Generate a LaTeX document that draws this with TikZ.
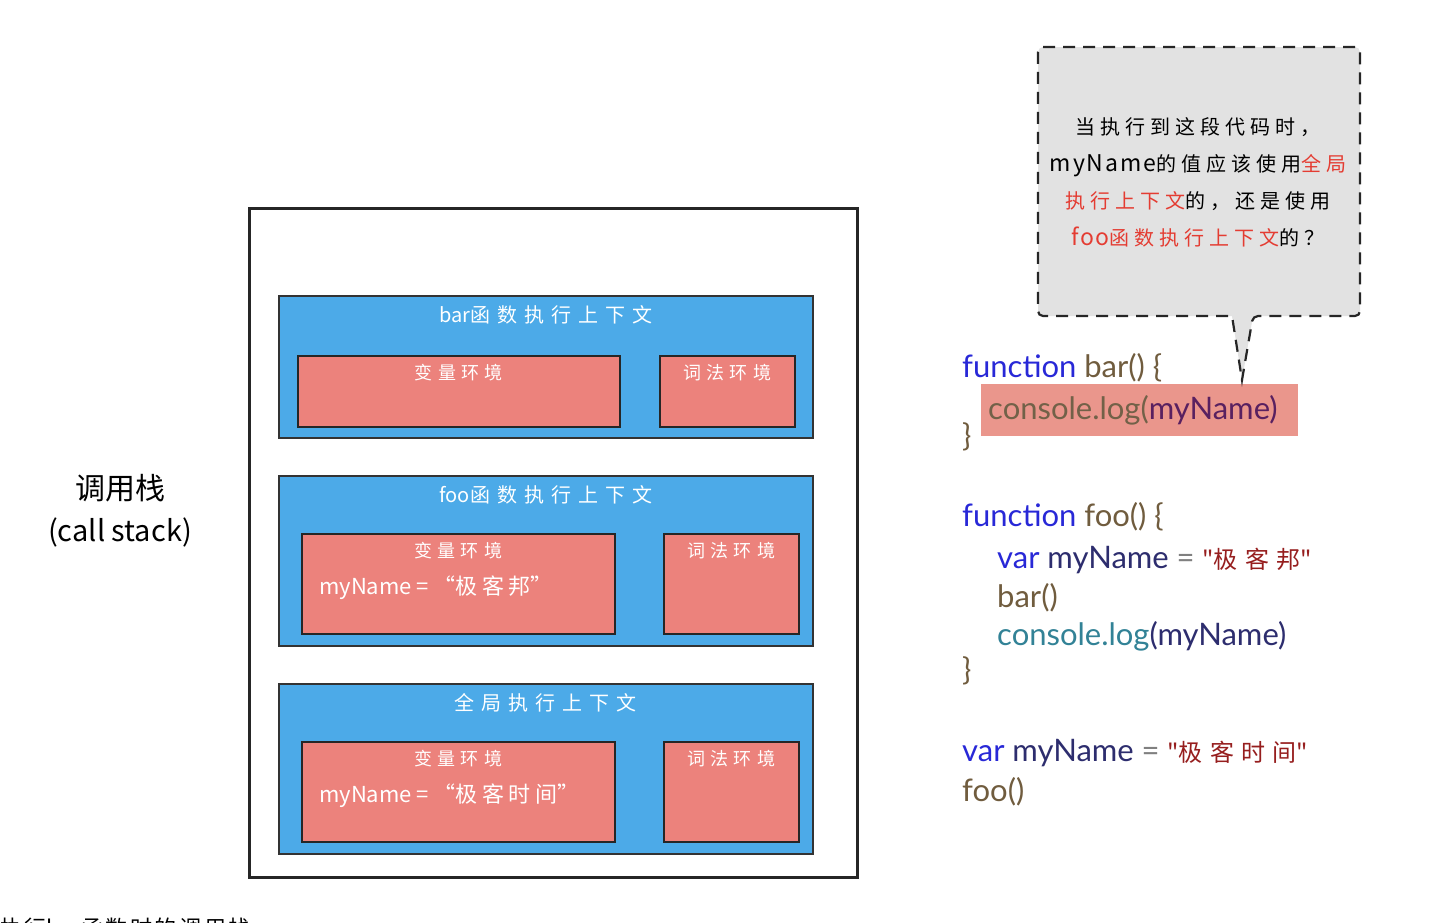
\documentclass[tikz,border=0pt]{standalone}
\usepackage{fontspec}
\setmainfont{Lato}
\newfontfamily\cjk{Noto Sans CJK SC}
\usetikzlibrary{positioning}

\definecolor{ctxblue}{RGB}{76,170,232}
\definecolor{envred}{RGB}{236,130,124}
\definecolor{hlred}{RGB}{234,150,140}
\definecolor{bubblegray}{RGB}{226,226,226}
\definecolor{kwblue}{RGB}{40,40,215}
\definecolor{fnbrown}{RGB}{112,92,62}
\definecolor{strred}{RGB}{150,30,30}
\definecolor{varnavy}{RGB}{45,45,110}
\definecolor{logteal}{RGB}{50,130,150}
\definecolor{notered}{RGB}{228,60,50}

\tikzset{
  stackbox/.style={draw=black!85,line width=2.5pt,fill=white},
  ctxbox/.style={draw=black!80,line width=1.5pt,fill=ctxblue,minimum width=534pt},
  envbox/.style={draw=black!85,line width=1.5pt,fill=envred},
  ctxtitle/.style={text=white,inner sep=2pt,font=\cjk\fontsize{20}{24}\selectfont},
  envlabel/.style={text=white,inner sep=2pt,font=\cjk\fontsize{18}{22}\selectfont},
  envtext/.style={text=white,inner sep=0pt,anchor=west,font=\cjk\fontsize{22}{26}\selectfont},
  codeline/.style={anchor=base west,inner sep=0pt,font=\fontsize{31}{36}\selectfont},
  hlbox/.style={fill=hlred,inner xsep=7pt,inner ysep=0pt,minimum height=52pt,text width=303pt,align=left,font=\fontsize{31}{36}\selectfont},
  note/.style={align=center,inner sep=0pt,font=\cjk\fontsize{20}{37}\selectfont},
  bubble/.style={draw=black!85,line width=2.2pt,fill=bubblegray,dash pattern=on 12pt off 8pt,rounded corners=5pt}
}
% spaced CJK run
\newcommand{\spc}[2][30]{{\addfontfeature{LetterSpace=#1}#2}}
\newcommand{\str}[1]{\textcolor{strred}{\cjk\fontsize{24}{30}\selectfont"\spc[30]{#1}"}}
\newcommand{\wide}[1]{{\fontsize{23}{37}\selectfont\spc[8]{#1}}}

\begin{document}
\begin{tikzpicture}[x=1pt,y=-1pt]
    \useasboundingbox (0,0) rectangle (1430,922);

    % call stack label
    \node[font=\cjk\fontsize{30}{34}\selectfont] (stacklabel) at (120,488) {调用栈};
    \node[font=\cjk\fontsize{29}{32}\selectfont,below=9pt of stacklabel] (stacklabelen) {(call stack)};

    % call stack frame
    \node[stackbox,minimum width=608pt,minimum height=669pt,anchor=north west] (stack) at (248,207) {};

    % bar context
    \node[ctxbox,minimum height=142pt,anchor=north west] (barctx) at (278,295) {};
    \node[ctxtitle,below=8pt of barctx.north] (bartitle) {bar\spc[35]{函数执行上下文}};
    \node[envbox,minimum width=322pt,minimum height=71pt,anchor=north west] (barvar) at (297,355) {};
    \node[envlabel,below=7pt of barvar.north] {\spc{变量环境}};
    \node[envbox,minimum width=135pt,minimum height=71pt,anchor=north west] (barlex) at (659,355) {};
    \node[envlabel,below=7pt of barlex.north] {\spc{词法环境}};

    % foo context
    \node[ctxbox,minimum height=170pt,anchor=north west] (fooctx) at (278,475) {};
    \node[ctxtitle,below=8pt of fooctx.north] (footitle) {foo\spc[35]{函数执行上下文}};
    \node[envbox,minimum width=313pt,minimum height=100pt,anchor=north west] (foovar) at (301,533) {};
    \node[envlabel,below=7pt of foovar.north] {\spc{变量环境}};
    \node[envtext] at (319,588) {myName = “\spc[20]{极客邦}”};
    \node[envbox,minimum width=135pt,minimum height=100pt,anchor=north west] (foolex) at (663,533) {};
    \node[envlabel,below=7pt of foolex.north] {\spc{词法环境}};

    % global context
    \node[ctxbox,minimum height=170pt,anchor=north west] (globctx) at (278,683) {};
    \node[ctxtitle,below=8pt of globctx.north] (globtitle) {\spc[35]{全局执行上下文}};
    \node[envbox,minimum width=313pt,minimum height=100pt,anchor=north west] (globvar) at (301,741) {};
    \node[envlabel,below=7pt of globvar.north] {\spc{变量环境}};
    \node[envtext] at (319,796) {myName = “\spc[20]{极客时间}”};
    \node[envbox,minimum width=135pt,minimum height=100pt,anchor=north west] (globlex) at (663,741) {};
    \node[envlabel,below=7pt of globlex.north] {\spc{词法环境}};

    % code
    \node[codeline] (fnbar) at (962,377) {\textcolor{kwblue}{function} \textcolor{fnbrown}{bar() \{}};
    \node[hlbox,anchor=north west] (hlline) at (981,384) {\textcolor{fnbrown!85!gray}{console.log(}\textcolor{varnavy!70!purple}{myName)}};
    \node[codeline] (barclose) at (962,446) {\textcolor{fnbrown}{\}}};

    \node[codeline] (fnfoo) at (962,526) {\textcolor{kwblue}{function} \textcolor{fnbrown}{foo() \{}};
    \node[codeline] (varfoo) at (997,568) {\textcolor{kwblue}{var} \textcolor{varnavy}{myName} \textcolor{gray}{=} \str{极客邦}};
    \node[codeline] (callbar) at (997,607) {\textcolor{fnbrown}{bar()}};
    \node[codeline] (logfoo) at (997,645) {\textcolor{logteal}{console.log}\textcolor{varnavy}{(myName)}};
    \node[codeline] (fooclose) at (962,680) {\textcolor{fnbrown}{\}}};

    \node[codeline] (varglob) at (962,761) {\textcolor{kwblue}{var} \textcolor{varnavy}{myName} \textcolor{gray}{=} \str{极客时间}};
    \node[codeline] (callfoo) at (962,801) {\textcolor{fnbrown}{foo()}};

    % speech bubble
    \coordinate (tip) at (1242,380);
    \draw[bubble] (1038,47) -- (1360,47) -- (1360,316) -- (1253,316)
        {[rounded corners=0pt] -- (tip) -- (1232,316)} -- (1038,316) -- cycle;
    \node[note] (question) at (1198,182) {\spc[25]{当执行到这段代码时，}\\
        \wide{myName}\spc[25]{的值应该使用\textcolor{notered}{全局}}\\
        \spc[25]{\textcolor{notered}{执行上下文}的，还是使用}\\
        \textcolor{notered}{\wide{foo}}\spc[25]{\textcolor{notered}{函数执行上下文}的？}};

    % caption (cut off at the lower edge)
    \node[anchor=base west,inner sep=0pt,font=\cjk\fontsize{22}{26}\selectfont] (caption) at (0,936) {\spc[12]{执行}bar\spc[12]{函数时的调用栈}};
\end{tikzpicture}
\end{document}
